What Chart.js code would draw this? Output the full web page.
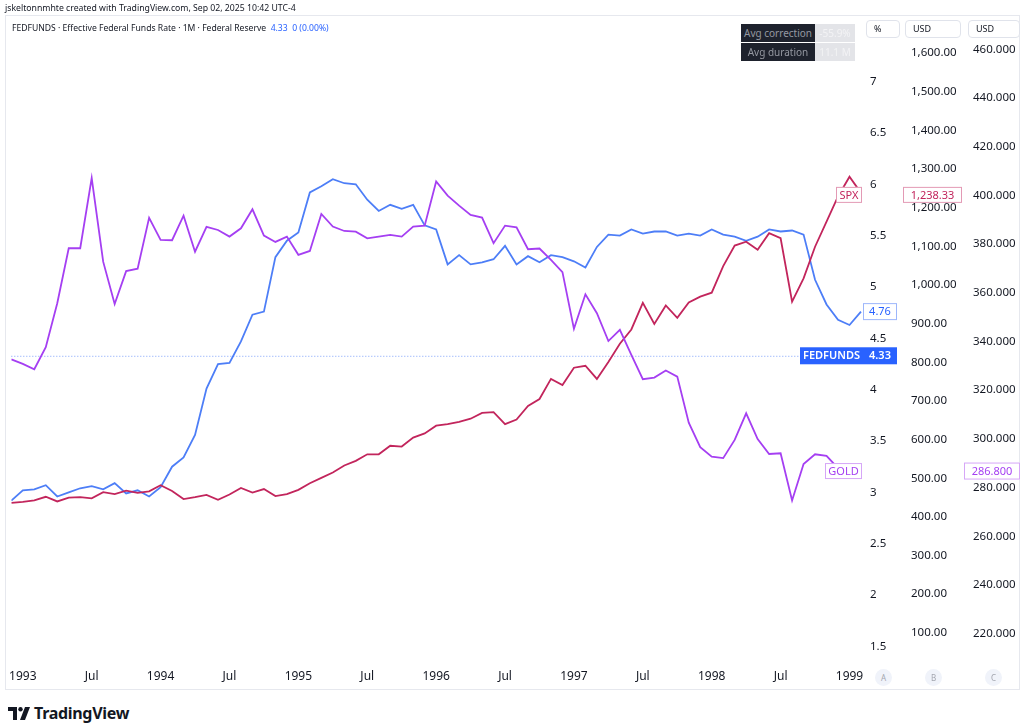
<!DOCTYPE html>
<html>
<head>
<meta charset="utf-8">
<script src="https://cdn.jsdelivr.net/npm/chart.js@4/dist/chart.umd.min.js"></script>
<style>
  body { margin: 0; background: #fff; font-family: "Noto Sans", sans-serif; color: #131722; }
  #page { position: relative; width: 1024px; height: 726px; overflow: hidden; }
  #frame { position: absolute; left: 5px; top: 15px; width: 1015px; height: 675px; border: 1px solid #e6e8ee; box-sizing: border-box; }
  #wrap { position: absolute; left: 0; top: 0; width: 1024px; height: 690px; }
  .txt { position: absolute; white-space: nowrap; }
  #credit { left: 5px; top: 2px; font-size: 8.7px; }
  #legend { left: 12px; top: 22px; font-size: 8.6px; }
  #legend .v { color: #2962ff; }
  .hdr { position: absolute; top: 20px; height: 18px; border: 1px solid #e0e3eb; border-radius: 4px; box-sizing: border-box;
         font-size: 9px; line-height: 16px; padding-left: 7px; background: #fff; }
  .stat { position: absolute; left: 741px; width: 74px; height: 18px; background: #1e222d; color: #9598a1;
          font-size: 10px; line-height: 18px; text-align: center; }
  .statv { position: absolute; left: 815px; width: 40px; height: 18px; background: #e3e4e8; color: #f3f3f5;
           font-size: 10px; line-height: 18px; text-align: center; }
  .pane { position: absolute; top: 669px; width: 17px; height: 17px; border-radius: 50%; background: #f0f3fa;
          color: #a3a6af; font-size: 8px; line-height: 17px; text-align: center; }
  #logo { left: 8px; top: 702px; font-size: 16px; font-weight: 700; letter-spacing: -0.3px; }
</style>
</head>
<body>
<div id="page">
  <div id="frame"></div>
  <div id="wrap"><canvas id="chart"></canvas></div>
  <div class="txt" id="credit">jskeltonnmhte created with TradingView.com, Sep 02, 2025 10:42 UTC-4</div>
  <div class="txt" id="legend">FEDFUNDS · Effective Federal Funds Rate · 1M · Federal Reserve&nbsp;&nbsp;<span class="v">4.33&nbsp;&nbsp;0 (0.00%)</span></div>
  <div class="stat" style="top:24px">Avg correction</div>
  <div class="statv" style="top:24px">-55.9%</div>
  <div class="stat" style="top:43px">Avg duration</div>
  <div class="statv" style="top:43px">11.1 M</div>
  <div class="hdr" style="left:866px;width:34px">%</div>
  <div class="hdr" style="left:905px;width:56px">USD</div>
  <div class="hdr" style="left:968px;width:52px">USD</div>
  <div class="pane" style="left:875px">A</div>
  <div class="pane" style="left:925px">B</div>
  <div class="pane" style="left:985px">C</div>
  <div class="txt" id="logo">
    <svg width="22" height="13" viewBox="0 0 22 13" style="vertical-align:-1px;margin-right:4px">
      <path d="M0 0h9v13H5V4H0z" fill="#131722"/>
      <circle cx="12.5" cy="2.2" r="2.2" fill="#131722"/>
      <path d="M17 0h5l-5 13h-5z" fill="#131722"/>
    </svg>TradingView</div>
</div>
<script>
// Monthly values, Dec 1992 .. Feb 1999 (75 months)
const fedfunds = [
  2.92,
  3.02, 3.03, 3.07, 2.96, 3.00, 3.04, 3.06, 3.03, 3.09, 2.99, 3.02, 2.96,
  3.05, 3.25, 3.34, 3.56, 4.01, 4.25, 4.26, 4.47, 4.73, 4.76, 5.29, 5.45,
  5.53, 5.92, 5.98, 6.05, 6.01, 6.00, 5.85, 5.74, 5.80, 5.76, 5.80, 5.60,
  5.56, 5.22, 5.31, 5.22, 5.24, 5.27, 5.40, 5.22, 5.30, 5.24, 5.31, 5.29,
  5.25, 5.19, 5.39, 5.51, 5.50, 5.56, 5.52, 5.54, 5.54, 5.50, 5.52, 5.50,
  5.56, 5.51, 5.49, 5.45, 5.49, 5.56, 5.54, 5.55, 5.51, 5.07, 4.83, 4.68,
  4.63, 4.76
];
const spx = [
  436,
  439, 443, 452, 440, 450, 451, 448, 464, 459, 468, 462, 466,
  482, 467, 446, 451, 457, 444, 458, 475, 463, 472, 454, 459,
  470, 487, 501, 515, 533, 545, 562, 562, 584, 582, 605, 616,
  636, 640, 646, 654, 669, 671, 640, 652, 687, 705, 757, 741,
  786, 791, 757, 801, 848, 885, 954, 899, 947, 915, 955, 970,
  980, 1049, 1102, 1112, 1091, 1134, 1121, 957, 1017, 1099, 1164, 1229,
  1280, 1238.33
];
const gold = [
  332.7,
  330.8, 328.6, 337.7, 355.7, 378.3, 378.3, 407.1, 372.8, 355.4, 368.9, 369.9, 390.8,
  381.7, 381.6, 391.7, 376.9, 387.1, 385.8, 383.1, 386.5, 394.3, 383.5, 380.9, 383.1,
  375.6, 377.2, 392.4, 387.2, 385.4, 385.1, 382.4, 383.1, 383.8, 383.1, 387.2, 387.6,
  405.7, 399.9, 395.8, 392.0, 390.9, 380.4, 387.6, 386.9, 377.9, 378.2, 373.5, 368.5,
  345.2, 359.4, 351.6, 340.2, 344.8, 334.5, 324.5, 325.2, 328.1, 325.6, 306.7, 296.6,
  292.7, 292.1, 299.6, 310.5, 299.9, 293.8, 294.1, 274.7, 289.7, 293.7, 293.0, 288.0,
  287.0, 286.8
];
const fedCurrent = 4.33;
const xTickIdx = [1, 7, 13, 19, 25, 31, 37, 43, 49, 55, 61, 67, 73];
const xTickLabels = ['1993', 'Jul', '1994', 'Jul', '1995', 'Jul', '1996', 'Jul', '1997', 'Jul', '1998', 'Jul', '1999'];

const BLUE = '#4d7ef7', SPXC = '#c2255c', GOLDC = '#a53ff2';
const tickFont = { family: 'Noto Sans', size: 11.5 };

const toXY = arr => arr.map((v, i) => ({ x: i, y: v }));

function tag(ctx, x1, x2, yc, h, fill, stroke, text, color, bold) {
  ctx.fillStyle = fill;
  ctx.fillRect(x1, yc - h / 2, x2 - x1, h);
  if (stroke) {
    ctx.strokeStyle = stroke;
    ctx.lineWidth = 1;
    ctx.strokeRect(x1 + 0.5, yc - h / 2 + 0.5, x2 - x1 - 1, h - 1);
  }
  ctx.fillStyle = color;
  ctx.font = (bold ? '600 ' : '') + '11px "Noto Sans"';
  ctx.textAlign = 'center';
  ctx.textBaseline = 'middle';
  ctx.fillText(text, (x1 + x2) / 2, yc + 0.5);
}

const tagPlugin = {
  id: 'tags',
  beforeDatasetsDraw(chart) {
    const { ctx, chartArea, scales } = chart;
    const y = scales.y.getPixelForValue(fedCurrent);
    ctx.save();
    ctx.strokeStyle = '#7ea0fa';
    ctx.lineWidth = 1;
    ctx.setLineDash([1, 2]);
    ctx.beginPath();
    ctx.moveTo(chartArea.left, y + 0.5);
    ctx.lineTo(chartArea.right, y + 0.5);
    ctx.stroke();
    ctx.restore();
  },
  afterDraw(chart) {
    const { ctx, chartArea, scales } = chart;
    const r = chartArea.right;
    ctx.save();
    const yCur = scales.y.getPixelForValue(fedCurrent);
    tag(ctx, r - 65, r - 2, yCur, 17, '#2962ff', null, 'FEDFUNDS', '#fff', true);
    tag(ctx, r - 2, r + 32, yCur, 17, '#2962ff', null, fedCurrent.toFixed(2), '#fff', true);
    const yFed = scales.y.getPixelForValue(fedfunds[fedfunds.length - 1]);
    tag(ctx, r - 2, r + 32, yFed, 17, '#fff', '#9db6fb', fedfunds[fedfunds.length - 1].toFixed(2), '#2962ff');
    const ySpx = scales.y1.getPixelForValue(spx[spx.length - 1]);
    tag(ctx, r - 29, r - 3, ySpx + 2, 16, '#fff', '#e39ab5', 'SPX', SPXC);
    tag(ctx, scales.y1.left - 2, scales.y1.right - 3, ySpx + 2, 16, '#fff', '#e39ab5',
        spx[spx.length - 1].toLocaleString('en-US', { minimumFractionDigits: 2 }), SPXC);
    const yGold = scales.y2.getPixelForValue(gold[gold.length - 1]);
    tag(ctx, r - 40, r - 3, yGold, 16, '#fff', '#d6a6f7', 'GOLD', GOLDC);
    tag(ctx, scales.y2.left - 1, scales.y2.right - 4, yGold, 17, '#fff', '#d6a6f7',
        gold[gold.length - 1].toFixed(3), GOLDC);
    ctx.restore();
  }
};

function rightAxis(min, max, step, width, pad, weight, fmt) {
  return {
    position: 'right', min: min, max: max, weight: weight,
    grid: { display: false, drawTicks: false }, border: { display: false },
    afterFit: s => { s.width = width; },
    ticks: { stepSize: step, includeBounds: false, padding: pad, color: '#131722', font: tickFont, callback: fmt }
  };
}

new Chart(document.getElementById('chart'), {
  type: 'line',
  data: {
    datasets: [
      { label: 'GOLD', data: toXY(gold), yAxisID: 'y2', borderColor: GOLDC },
      { label: 'SPX', data: toXY(spx), yAxisID: 'y1', borderColor: SPXC },
      { label: 'FEDFUNDS', data: toXY(fedfunds), yAxisID: 'y', borderColor: BLUE }
    ]
  },
  options: {
    responsive: true,
    maintainAspectRatio: false,
    animation: false,
    layout: { padding: { left: 6, top: 15, right: 0, bottom: 0 } },
    elements: { line: { borderWidth: 1.8, tension: 0 }, point: { radius: 0 } },
    plugins: { legend: { display: false }, tooltip: { enabled: false } },
    scales: {
      x: {
        type: 'linear', min: 0, max: 74.35,
        grid: { display: false, drawTicks: false }, border: { display: false },
        afterFit: s => { s.height = 30; },
        afterBuildTicks: s => { s.ticks = xTickIdx.map(v => ({ value: v })); },
        ticks: { autoSkip: false, maxRotation: 0, padding: 9, color: '#131722',
                 font: { family: 'Noto Sans', size: 12 },
                 callback: v => xTickLabels[xTickIdx.indexOf(v)] }
      },
      y: rightAxis(1.368, 7.648, 0.5, 40, 5, 0, v => (v > 7.2 ? '' : String(+v.toFixed(1)))),
      y1: rightAxis(29.7, 1698.6, 100, 60, 6, 1,
                    v => v.toLocaleString('en-US', { minimumFractionDigits: 2, maximumFractionDigits: 2 })),
      y2: rightAxis(209.2, 474.1, 20, 59, 8, 2, v => v.toFixed(3))
    }
  },
  plugins: [tagPlugin]
});
</script>
</body>
</html>
